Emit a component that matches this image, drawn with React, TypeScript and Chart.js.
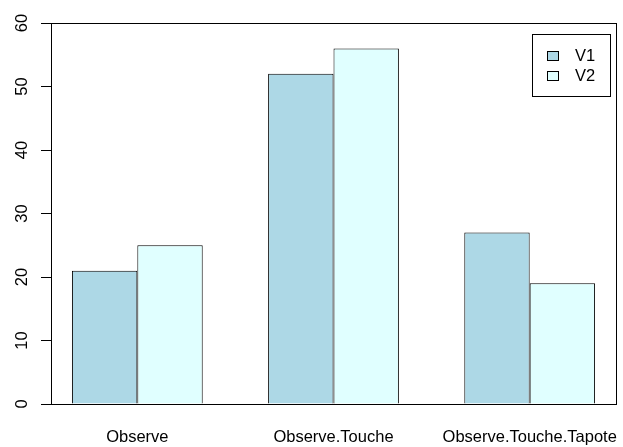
import React, { useEffect, useRef } from "react";
import { Chart, registerables } from "chart.js";

Chart.register(...registerables);

const categories = ["Observe", "Observe.Touche", "Observe.Touche.Tapote"];
const seriesNames = ["V1", "V2"];
const v1 = [21, 52, 27];
const v2 = [25, 56, 19];
const groupCenters = [2, 5, 8];
const yTicks = [0, 10, 20, 30, 40, 50, 60];
const colors = ["#ADD8E6", "#E0FFFF"];

const FONT = "'Liberation Sans', Arial, Helvetica, sans-serif";
const FSIZE = 16.5;

const boxAndLegend = {
  id: "boxAndLegend",
  afterDraw(chart: any) {
    const { ctx, chartArea } = chart;
    ctx.save();
    ctx.strokeStyle = "#000";
    ctx.lineWidth = 1;
    ctx.strokeRect(
      Math.round(chartArea.left) + 0.5,
      Math.round(chartArea.top) + 0.5,
      Math.round(chartArea.right - chartArea.left),
      Math.round(chartArea.bottom - chartArea.top)
    );
    // legend
    const bx = Math.round(chartArea.right) - 84;
    const by = Math.round(chartArea.top) + 11;
    const bw = 78;
    const bh = 62;
    ctx.strokeStyle = "#000";
    ctx.strokeRect(bx + 0.5, by + 0.5, bw, bh);
    ctx.font = `${FSIZE}px ${FONT}`;
    ctx.textBaseline = "middle";
    ctx.textAlign = "left";
    seriesNames.forEach((name, i) => {
      const cy = by + 21 + i * 20;
      ctx.fillStyle = colors[i];
      ctx.fillRect(bx + 15, cy - 4, 11, 9);
      ctx.strokeStyle = "#000";
      ctx.strokeRect(bx + 15.5, cy - 3.5, 11, 9);
      ctx.fillStyle = "#000";
      ctx.fillText(name, bx + 43, cy + 1);
    });
    ctx.restore();
  },
};

export default function App() {
  const ref = useRef<HTMLCanvasElement>(null);
  useEffect(() => {
    document.body.style.margin = "0";
    const canvas = ref.current!;
    const chart = new Chart(canvas, {
      type: "bar",
      data: {
        datasets: [
          {
            label: seriesNames[0],
            data: groupCenters.map((x, i) => ({ x, y: v1[i] })),
            backgroundColor: colors[0],
            borderColor: "#000",
            borderWidth: 1,
          },
          {
            label: seriesNames[1],
            data: groupCenters.map((x, i) => ({ x, y: v2[i] })),
            backgroundColor: colors[1],
            borderColor: "#000",
            borderWidth: 1,
          },
        ],
      },
      options: {
        animation: false,
        responsive: false,
        devicePixelRatio: 1,
        layout: { padding: { top: 23, right: 7, left: 0, bottom: 0 } },
        datasets: { bar: { categoryPercentage: 2 / 3, barPercentage: 1 } },
        plugins: { legend: { display: false }, tooltip: { enabled: false } },
        scales: {
          x: {
            type: "linear",
            min: 0.68,
            max: 9.32,
            offset: false,
            grid: { display: false, drawTicks: false, tickLength: 0 },
            border: { display: false },
            afterBuildTicks: (scale: any) => {
              scale.ticks = groupCenters.map((v) => ({ value: v }));
            },
            afterFit: (scale: any) => {
              scale.height = 43;
              scale.paddingLeft = 0;
              scale.paddingRight = 0;
            },
            ticks: {
              autoSkip: false,
              maxRotation: 0,
              minRotation: 0,
              padding: 24,
              color: "#000",
              font: { family: FONT, size: FSIZE },
              callback: (_v: any, i: number) => categories[i],
            },
          },
          y: {
            min: 0,
            max: 60,
            grid: {
              drawOnChartArea: false,
              drawTicks: true,
              tickLength: 10,
              color: "#000",
            },
            border: { display: false },
            afterBuildTicks: (scale: any) => {
              scale.ticks = yTicks.map((v) => ({ value: v }));
            },
            afterFit: (scale: any) => {
              scale.width = 51;
              scale.paddingTop = 0;
              scale.paddingBottom = 0;
            },
            ticks: {
              minRotation: 90,
              maxRotation: 90,
              crossAlign: "center",
              padding: 9,
              color: "#000",
              font: { family: FONT, size: FSIZE },
            },
          },
        },
      },
      plugins: [boxAndLegend],
    } as any);
    return () => chart.destroy();
  }, []);
  return (
    <div style={{ width: 623, height: 447 }}>
      <canvas ref={ref} width={623} height={447} />
    </div>
  );
}
